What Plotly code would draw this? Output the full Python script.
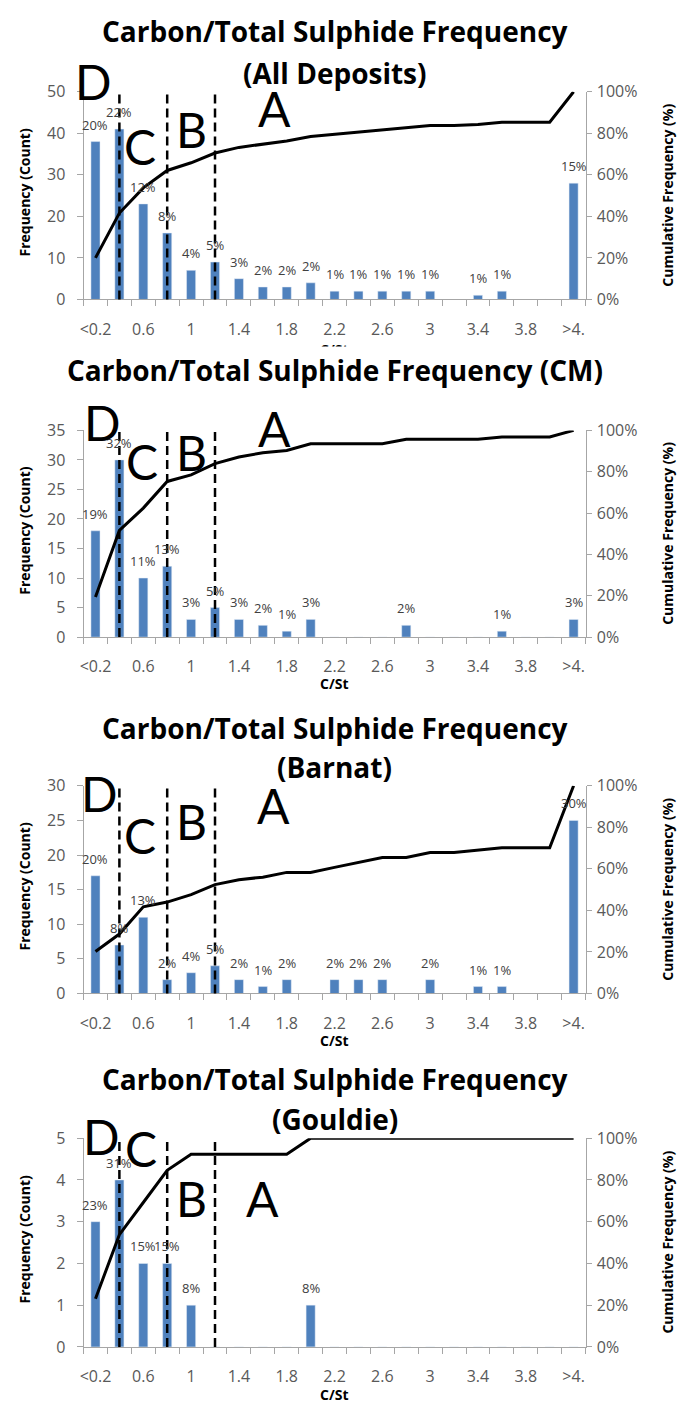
import plotly.graph_objects as go

# ---------------- data ----------------
categories = ["<0.2", "0.4", "0.6", "0.8", "1", "1.2", "1.4", "1.6", "1.8", "2", "2.2",
              "2.4", "2.6", "2.8", "3", "3.2", "3.4", "3.6", "3.8", "4", ">4."]
shown_ticks = ["<0.2", "0.6", "1", "1.4", "1.8", "2.2", "2.6", "3", "3.4", "3.8", ">4."]

all_counts = [38, 41, 23, 16, 7, 9, 5, 3, 3, 4, 2, 2, 2, 2, 2, 0, 1, 2, 0, 0, 28]
all_pct = ["20%", "22%", "12%", "8%", "4%", "5%", "3%", "2%", "2%", "2%", "1%", "1%", "1%",
           "1%", "1%", "", "1%", "1%", "", "", "15%"]
all_cum = [20.0, 41.6, 53.7, 62.1, 65.8, 70.5, 73.2, 74.7, 76.3, 78.4, 79.5, 80.5, 81.6,
           82.6, 83.7, 83.7, 84.2, 85.3, 85.3, 85.3, 100.0]

cm_counts = [18, 30, 10, 12, 3, 5, 3, 2, 1, 3, 0, 0, 0, 2, 0, 0, 0, 1, 0, 0, 3]
cm_pct = ["19%", "32%", "11%", "13%", "3%", "5%", "3%", "2%", "1%", "3%", "", "", "", "2%",
          "", "", "", "1%", "", "", "3%"]
cm_cum = [19.4, 51.6, 62.4, 75.3, 78.5, 83.9, 87.1, 89.2, 90.3, 93.5, 93.5, 93.5, 93.5,
          95.7, 95.7, 95.7, 95.7, 96.8, 96.8, 96.8, 100.0]

barnat_counts = [17, 7, 11, 2, 3, 4, 2, 1, 2, 0, 2, 2, 2, 0, 2, 0, 1, 1, 0, 0, 25]
barnat_pct = ["20%", "8%", "13%", "2%", "4%", "5%", "2%", "1%", "2%", "", "2%", "2%", "2%",
              "", "2%", "", "1%", "1%", "", "", "30%"]
barnat_cum = [20.2, 28.6, 41.7, 44.0, 47.6, 52.4, 54.8, 56.0, 58.3, 58.3, 60.7, 63.1, 65.5,
              65.5, 67.9, 67.9, 69.0, 70.2, 70.2, 70.2, 100.0]

gouldie_counts = [3, 4, 2, 2, 1, 0, 0, 0, 0, 1, 0, 0, 0, 0, 0, 0, 0, 0, 0, 0, 0]
gouldie_pct = ["23%", "31%", "15%", "15%", "8%", "", "", "", "", "8%", "", "", "", "", "",
               "", "", "", "", "", ""]
gouldie_cum = [23.1, 53.8, 69.2, 84.6, 92.3, 92.3, 92.3, 92.3, 92.3, 100, 100, 100, 100,
               100, 100, 100, 100, 100, 100, 100, 100]

zone_boundaries = ["0.4", "0.8", "1.2"]

# ---------------- layout helpers ----------------
W, H = 678, 1416
FONT = "Open Sans"
LETTER_FONT = "Lato"
BAR_COLOR = "#4F81BD"
AX_COLOR = "#A6A6A6"
TICK_COLOR = "#595959"
X0, X1 = 80, 585

panels = [
    dict(title=["Carbon/Total Sulphide Frequency", "(All Deposits)"], title_y=[20, 63],
         counts=all_counts, pct=all_pct, cum=all_cum, ymax=50, dtick=10,
         top=82, bottom=293, xtitle_y=344,
         letters=[("D", -0.1, 52.4), ("C", 1.87, 36.7), ("B", 4.03, 40.8), ("A", 7.5, 46.0)]),
    dict(title=["Carbon/Total Sulphide Frequency (CM)"], title_y=[365],
         counts=cm_counts, pct=cm_pct, cum=cm_cum, ymax=35, dtick=5,
         top=426, bottom=636, xtitle_y=683,
         letters=[("D", 0.3, 36.3), ("C", 1.95, 29.7), ("B", 4.03, 31.3), ("A", 7.5, 35.3)]),
    dict(title=["Carbon/Total Sulphide Frequency", "(Barnat)"], title_y=[728, 768],
         counts=barnat_counts, pct=barnat_pct, cum=barnat_cum, ymax=30, dtick=5,
         top=787, bottom=998, xtitle_y=1046,
         letters=[("D", 0.15, 28.9), ("C", 1.87, 22.8), ("B", 4.0, 24.8), ("A", 7.44, 27.2)]),
    dict(title=["Carbon/Total Sulphide Frequency", "(Gouldie)"], title_y=[1085, 1125],
         counts=gouldie_counts, pct=gouldie_pct, cum=gouldie_cum, ymax=5, dtick=1,
         top=1145, bottom=1357, xtitle_y=1405,
         letters=[("D", 0.25, 5.05), ("C", 1.9, 4.75), ("B", 4.0, 3.55), ("A", 6.98, 3.55)]),
]

xpos = list(range(len(categories)))
tickvals = [categories.index(t) for t in shown_ticks]
boundaries = [i - 0.5 for i in range(len(categories) + 1)]

fig = go.Figure()
annotations = []
shapes = []
layout = dict(width=W, height=H, margin=dict(l=0, r=0, t=0, b=0),
              paper_bgcolor="white", plot_bgcolor="white", showlegend=False)


def py(px):
    return 1 - px / H


for i, p in enumerate(panels):
    k = i + 1
    xa = "x" if k == 1 else f"x{k}"
    yl_n = 2 * k - 1
    yr_n = 2 * k
    yl = "y" if yl_n == 1 else f"y{yl_n}"
    yr = f"y{yr_n}"

    fig.add_trace(go.Bar(x=xpos, y=p["counts"], marker_color=BAR_COLOR, width=0.38,
                         xaxis=xa, yaxis=yl))
    fig.add_trace(go.Scatter(x=xpos, y=p["cum"], mode="lines",
                             line=dict(color="black", width=3), cliponaxis=False,
                             xaxis=xa, yaxis=yr))

    # percentage labels above the bars
    for xi, (c, t) in enumerate(zip(p["counts"], p["pct"])):
        if t:
            annotations.append(dict(text=t, x=xi, y=c, xref=xa, yref=yl, showarrow=False,
                                    xanchor="center", yanchor="middle", yshift=17,
                                    font=dict(family=FONT, size=13, color="#404040")))

    dom_y = [py(p["bottom"]), py(p["top"])]
    layout[f"xaxis{'' if k == 1 else k}"] = dict(
        domain=[X0 / W, X1 / W], range=[-0.5, len(categories) - 0.5], anchor=yl,
        tickmode="array", tickvals=tickvals, ticktext=shown_ticks, ticks="",
        ticklabelstandoff=15,
        tickfont=dict(family=FONT, size=16, color=TICK_COLOR),
        showline=True, linecolor=AX_COLOR, linewidth=1, showgrid=False, zeroline=False,
        minor=dict(tickmode="array", tickvals=boundaries, ticks="outside", ticklen=6,
                   tickcolor=AX_COLOR, showgrid=False))
    layout[f"yaxis{'' if yl_n == 1 else yl_n}"] = dict(
        domain=dom_y, range=[0, p["ymax"]], dtick=p["dtick"], anchor=xa,
        ticks="outside", ticklen=6, tickcolor=AX_COLOR, ticklabelstandoff=8,
        tickfont=dict(family=FONT, size=16, color=TICK_COLOR),
        showline=True, linecolor=AX_COLOR, linewidth=1, showgrid=False, zeroline=False)
    layout[f"yaxis{yr_n}"] = dict(
        domain=dom_y, range=[0, 100], dtick=20, ticksuffix="%", overlaying=yl, side="right",
        anchor=xa, ticks="outside", ticklen=5, tickcolor=AX_COLOR, ticklabelstandoff=2,
        tickfont=dict(family=FONT, size=16, color=TICK_COLOR),
        showline=True, linecolor=AX_COLOR, linewidth=1, showgrid=False, zeroline=False)

    # zone separators
    for b in zone_boundaries:
        shapes.append(dict(type="line", xref=xa, yref=f"{yl} domain",
                           x0=categories.index(b), x1=categories.index(b), y0=0, y1=1,
                           line=dict(color="black", width=2.5, dash="9px,5px")))

    # zone letters (vertical position in domain units so they may sit above the plot)
    for letter, lx, ly in p["letters"]:
        annotations.append(dict(text=letter, x=lx, y=ly / p["ymax"], xref=xa,
                                yref=f"{yl} domain", showarrow=False,
                                xanchor="center", yanchor="middle",
                                font=dict(family=LETTER_FONT, size=48, color="black")))

    # titles
    for t, ty in zip(p["title"], p["title_y"]):
        annotations.append(dict(text=f"<b>{t}</b>", x=(X0 + X1) / 2 / W, y=py(ty),
                                xref="paper", yref="paper", showarrow=False,
                                xanchor="center", yanchor="middle",
                                font=dict(family=FONT, size=28, color="black")))

    mid = (p["top"] + p["bottom"]) / 2
    annotations.append(dict(text="<b>Frequency (Count)</b>", x=21 / W, y=py(mid - 3),
                            xref="paper", yref="paper", showarrow=False, textangle=-90,
                            xanchor="center", yanchor="middle",
                            font=dict(family=FONT, size=14, color="black")))
    annotations.append(dict(text="<b>Cumulative Frequency (%)</b>", x=668 / W, y=py(mid),
                            xref="paper", yref="paper", showarrow=False, textangle=-90,
                            xanchor="center", yanchor="middle",
                            font=dict(family=FONT, size=14, color="black")))
    annotations.append(dict(text="<b>C/St</b>", x=(X0 + X1) / 2 / W, y=py(p["xtitle_y"]),
                            xref="paper", yref="paper", showarrow=False,
                            xanchor="center", yanchor="middle",
                            font=dict(family=FONT, size=14, color="black")))
    if k == 1:
        # the first chart's axis title is cut off by the next chart
        annotations.append(dict(text=" ", x=(X0 + X1) / 2 / W, y=py(351),
                                xref="paper", yref="paper", showarrow=False,
                                xanchor="center", yanchor="middle", bgcolor="white",
                                width=80, height=18, font=dict(size=10)))

layout["annotations"] = annotations
layout["shapes"] = shapes
fig.update_layout(**layout)
fig.write_html("out.html")
